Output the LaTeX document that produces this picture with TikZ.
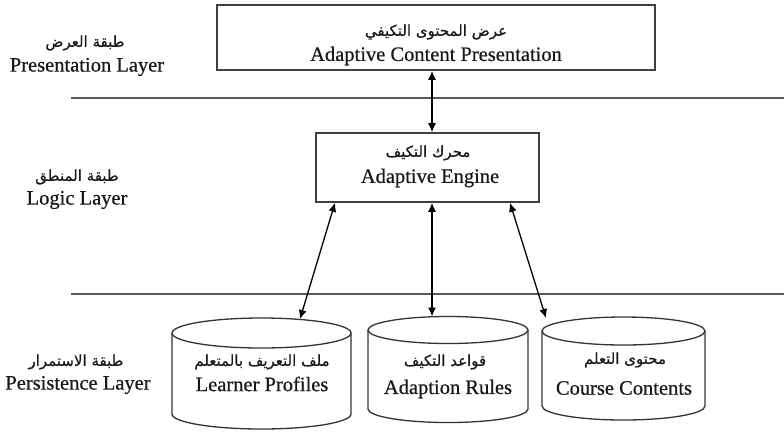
\documentclass[tikz,border=0pt]{standalone}
\usepackage{fontspec}
\setmainfont{Liberation Serif}
\newfontfamily\enfont[FakeBold=0.6]{Liberation Serif}
\newfontfamily\arabicfont[Script=Arabic,FakeBold=0.6]{DejaVu Sans}
\TeXXeTstate=1
\usetikzlibrary{arrows.meta}
\newcommand{\ar}[1]{{\arabicfont\fontsize{15}{17}\selectfont\beginR #1\endR}}
\newcommand{\en}[1]{{\enfont\fontsize{20.5}{24}\selectfont #1}}
\tikzset{
  boxline/.style={draw=black!75, line width=1.6pt},
  layerline/.style={draw=black!65, line width=1.6pt},
  txt/.style={inner sep=0pt, text=black!90},
  conn/.style={line width=1.3pt, {Latex[length=9pt,width=8pt]}-{Latex[length=9pt,width=8pt]}},
  cyl/.style={draw=black!80, line width=1.3pt}
}
\begin{document}
\begin{tikzpicture}[x=1pt,y=-1pt]
\useasboundingbox (0,0) rectangle (784,432);
% layer lines
\draw[layerline] (71,98) -- (784,98);
\draw[layerline] (71,294) -- (784,294);
% layer labels
\node[txt] (pl1) at (85,43) {\ar{طبقة العرض}};
\node[txt] (pl2) at (87,67) {\en{Presentation Layer}};
\node[txt] (ll1) at (77,177) {\ar{طبقة المنطق}};
\node[txt] (ll2) at (77,200) {\en{Logic Layer}};
\node[txt] (sl1) at (76,362) {\ar{طبقة الاستمرار}};
\node[txt] (sl2) at (78,385) {\en{Persistence Layer}};
% top box
\node[boxline, rectangle, minimum width=438pt, minimum height=65pt, inner sep=0pt] (pres) at (436,37.5) {};
\node[txt] (pres1) at (436,32) {\ar{عرض المحتوى التكيفي}};
\node[txt] (pres2) at (436,56) {\en{Adaptive Content Presentation}};
% engine box
\node[boxline, rectangle, minimum width=223pt, minimum height=69pt, inner sep=0pt] (eng) at (427.5,167.5) {};
\node[txt] (eng1) at (428,153) {\ar{محرك التكيف}};
\node[txt] (eng2) at (430,178) {\en{Adaptive Engine}};
% cylinders
% Learner profiles
\draw[cyl] (261.5,333) ellipse [x radius=89.5, y radius=15];
\draw[cyl] (172,333) -- (172,414) arc[start angle=180, end angle=0, x radius=89.5, y radius=15] -- (351,333);
\node[txt] (lp1) at (262,362) {\ar{ملف التعريف بالمتعلم}};
\node[txt] (lp2) at (262,384) {\en{Learner Profiles}};
\coordinate (lpt) at (300,319);
% Adaption rules
\draw[cyl] (448,330) ellipse [x radius=80, y radius=13.5];
\draw[cyl] (368,330) -- (368,409) arc[start angle=180, end angle=0, x radius=80, y radius=13.5] -- (528,330);
\node[txt] (ar1) at (445,362) {\ar{قواعد التكيف}};
\node[txt] (ar2) at (448,389) {\en{Adaption Rules}};
\coordinate (art) at (432,316.5);
% Course contents
\draw[cyl] (623.5,331) ellipse [x radius=81.5, y radius=14];
\draw[cyl] (542,331) -- (542,406) arc[start angle=180, end angle=0, x radius=81.5, y radius=14] -- (705,331);
\node[txt] (cc1) at (625,360) {\ar{محتوى التعلم}};
\node[txt] (cc2) at (624,388) {\en{Course Contents}};
\coordinate (cct) at (546,318);
% connectors
\draw[conn] (pres.south -| 432,0) -- (eng.north -| 432,0);
\draw[conn] (eng.south -| 335,0) -- (lpt);
\draw[conn] (eng.south -| 432,0) -- (art);
\draw[conn] (eng.south -| 510,0) -- (cct);
\end{tikzpicture}
\end{document}
